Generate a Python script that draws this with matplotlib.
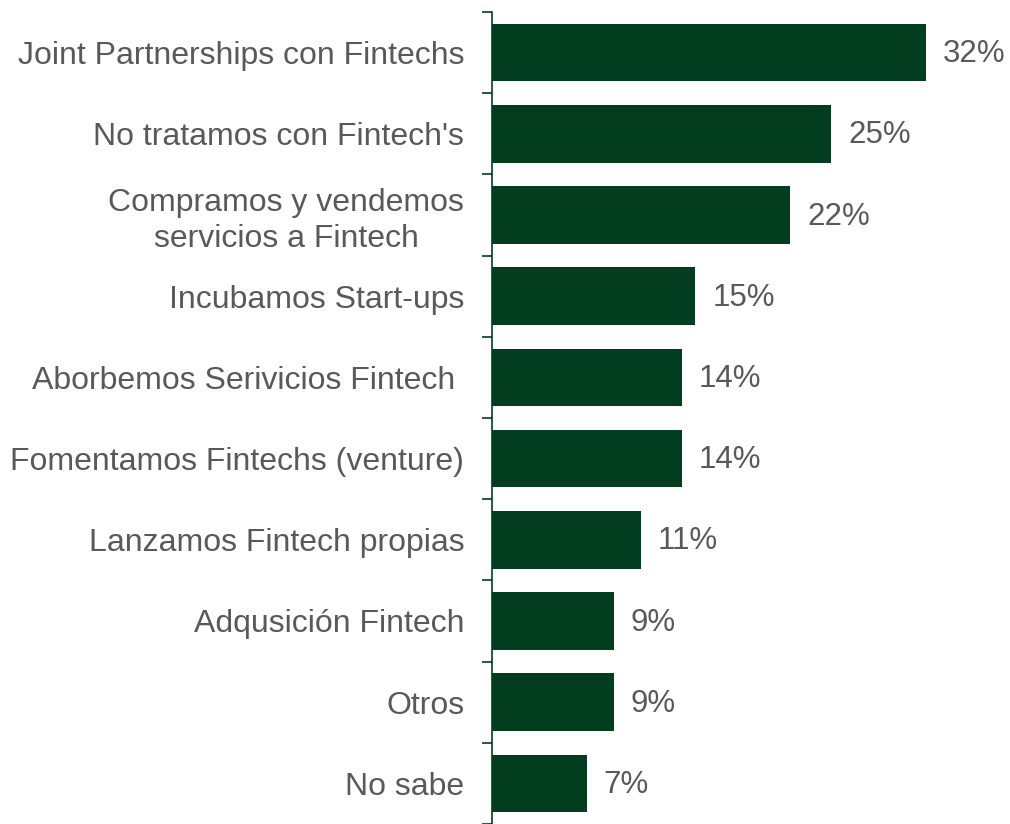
import matplotlib.pyplot as plt
import numpy as np

categories = [
    "Joint Partnerships con Fintechs",
    "No tratamos con Fintech's",
    "Compramos y vendemos\nservicios a Fintech",
    "Incubamos Start-ups",
    "Aborbemos Serivicios Fintech ",
    "Fomentamos Fintechs (venture)",
    "Lanzamos Fintech propias",
    "Adqusición Fintech",
    "Otros",
    "No sabe",
]
values = [32, 25, 22, 15, 14, 14, 11, 9, 9, 7]

BAR_COLOR = '#033d1f'
TEXT_COLOR = '#595959'

plt.rcParams['font.family'] = ['Liberation Sans', 'DejaVu Sans']

fig = plt.figure(figsize=(10.1, 8.24), dpi=100)
ax = fig.add_axes([492/1010, 0, 1 - 492/1010, 1 - 12/824])

y = np.arange(len(categories))
ax.barh(y, values, height=0.71, color=BAR_COLOR)
ax.set_ylim(len(categories) - 0.5, -0.5)
ax.set_xlim(0, (1010 - 492) / 13.56)

for yi, v in zip(y, values):
    ax.text(v + 1.25, yi + 0.02, f'{v}%', va='center', ha='left',
            fontsize=22.5, color=TEXT_COLOR)

# ticks on category boundaries, labels at centres
ax.set_yticks(np.arange(len(categories) + 1) - 0.5)
ax.set_yticklabels([])
ax.set_yticks(y, minor=True)
ax.set_yticklabels(categories, minor=True, fontsize=23, color=TEXT_COLOR,
                   multialignment='center', linespacing=1.25)
ax.tick_params(axis='y', which='major', length=7, width=1.2, color=BAR_COLOR)
ax.tick_params(axis='y', which='minor', length=0, pad=20)

ax.set_xticks([])
for s in ['top', 'right', 'bottom']:
    ax.spines[s].set_visible(False)
ax.spines['left'].set_color(BAR_COLOR)
ax.spines['left'].set_linewidth(1.2)

fig.savefig('out.png', dpi=100)
